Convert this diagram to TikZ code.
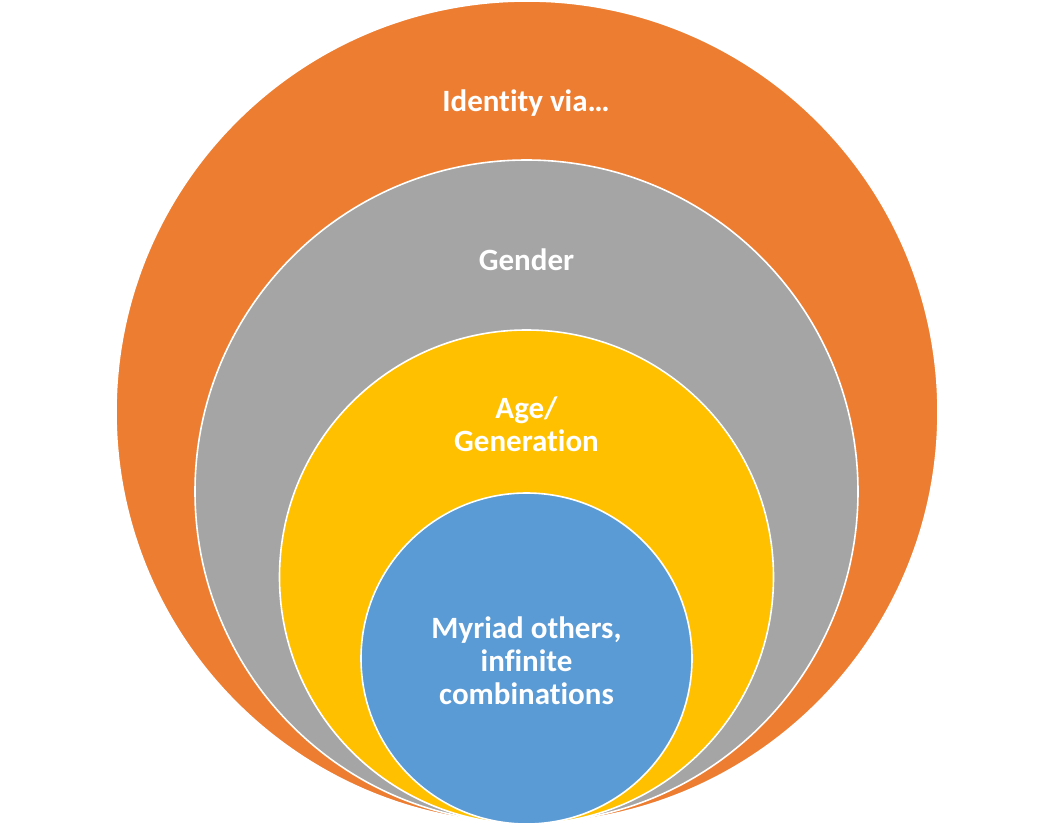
\documentclass[tikz,border=0pt]{standalone}
\usepackage{fontspec}
\setmainfont[Ligatures={NoCommon}]{Carlito}
\usepackage{tikz}
\usetikzlibrary{positioning}
\definecolor{ringorange}{HTML}{ED7D31}
\definecolor{ringgray}{HTML}{A5A5A5}
\definecolor{ringyellow}{HTML}{FFC000}
\definecolor{ringblue}{HTML}{5B9BD5}

\begin{document}
\begin{tikzpicture}[x=1pt, y=-1pt,
        RING/.style={circle, draw=white, line width=1.6pt, inner sep=0pt},
        LBL/.style={text=white, align=center, font=\fontsize{31}{33}\selectfont\bfseries},
    ]
    \useasboundingbox (0,0) rectangle (1053,827);

    \node[RING, fill=ringorange, minimum size=822pt] (Identity)   at (527,412)   {};
    \node[RING, fill=ringgray,   minimum size=663pt] (Gender)     at (526.5,491.5) {};
    \node[RING, fill=ringyellow, minimum size=494pt] (Age)        at (526.5,577) {};
    \node[RING, fill=ringblue,   minimum size=331pt] (Others)     at (526.5,658.5) {};

    \node[LBL] (Identity_T) at (526,103) {Identity via…};
    \node[LBL] (Gender_T)   at (526.5,260) {Gender};
    \node[LBL] (Age_T)      at (526.5,424) {Age/\\Generation};
    \node[LBL] (Others_T)   at (526.5,661) {Myriad others,\\infinite\\combinations};

\end{tikzpicture}
\end{document}
